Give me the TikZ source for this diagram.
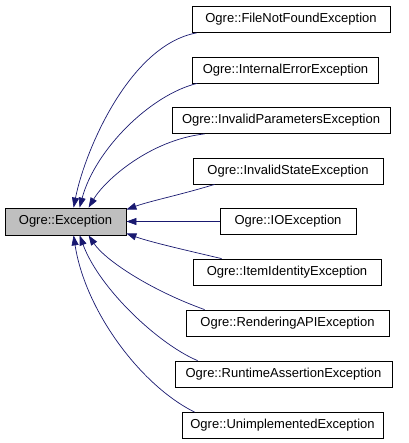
\documentclass[tikz,border=0pt]{standalone}
\usepackage{fontspec}
\setmainfont{Liberation Sans}
\usetikzlibrary{arrows.meta}
\definecolor{edgeblue}{HTML}{191970}
\definecolor{basegray}{HTML}{BFBFBF}
\begin{document}
\begin{tikzpicture}[x=1pt,y=-1pt,
  cls/.style={draw=black,line width=0.8pt,minimum height=26pt,inner sep=0pt,align=center,
    font=\fontsize{13}{15}\selectfont},
  base/.style={cls,fill=basegray,minimum height=27pt},
  inh/.style={draw=edgeblue,line width=0.7pt,-{Triangle[length=10pt,width=7pt]},color=edgeblue}]
\useasboundingbox (0,0) rectangle (408,443);
\node[base,minimum width=121pt] (ex) at (65.5,221.5) {Ogre::Exception};
\node[cls,minimum width=198pt] (n1) at (291,19.5) {Ogre::FileNotFoundException};
\node[cls,minimum width=186pt] (n2) at (285.5,70) {Ogre::InternalErrorException};
\node[cls,minimum width=218pt] (n3) at (281,120.5) {Ogre::InvalidParametersException};
\node[cls,minimum width=190pt] (n4) at (288,171) {Ogre::InvalidStateException};
\node[cls,minimum width=136pt] (n5) at (288,221.5) {Ogre::IOException};
\node[cls,minimum width=188pt] (n6) at (287,272) {Ogre::ItemIdentityException};
\node[cls,minimum width=203pt] (n7) at (287.5,323) {Ogre::RenderingAPIException};
\node[cls,minimum width=217pt] (n8) at (283.5,374) {Ogre::RuntimeAssertionException};
\node[cls,minimum width=201pt] (n9) at (282.5,425.5) {Ogre::UnimplementedException};
% edges
\draw[inh] ([xshift=5pt]n1.south west) .. controls (130,45) and (85,150) .. ([xshift=69pt]ex.north west);
\draw[inh] ([xshift=5pt]n2.south west) .. controls (150,95) and (95,150) .. ([xshift=75pt]ex.north west);
\draw[inh] ([xshift=33pt]n3.south west) .. controls (150,140) and (105,180) .. ([xshift=84pt]ex.north west);
\draw[inh] ([xshift=22pt]n4.south west) .. controls (180,195) and (150,201) .. ([yshift=-2pt]ex.north east);
\draw[inh] (n5.west) -- (ex.east);
\draw[inh] ([xshift=29pt]n6.north west) .. controls (185,250) and (150,242) .. ([yshift=2pt]ex.south east);
\draw[inh] ([xshift=19pt]n7.north west) .. controls (150,290) and (105,260) .. ([xshift=84pt]ex.south west);
\draw[inh] ([xshift=23pt]n8.north west) .. controls (160,345) and (100,290) .. ([xshift=75pt]ex.south west);
\draw[inh] ([xshift=13pt]n9.north west) .. controls (140,385) and (85,310) .. ([xshift=69pt]ex.south west);
\end{tikzpicture}
\end{document}
